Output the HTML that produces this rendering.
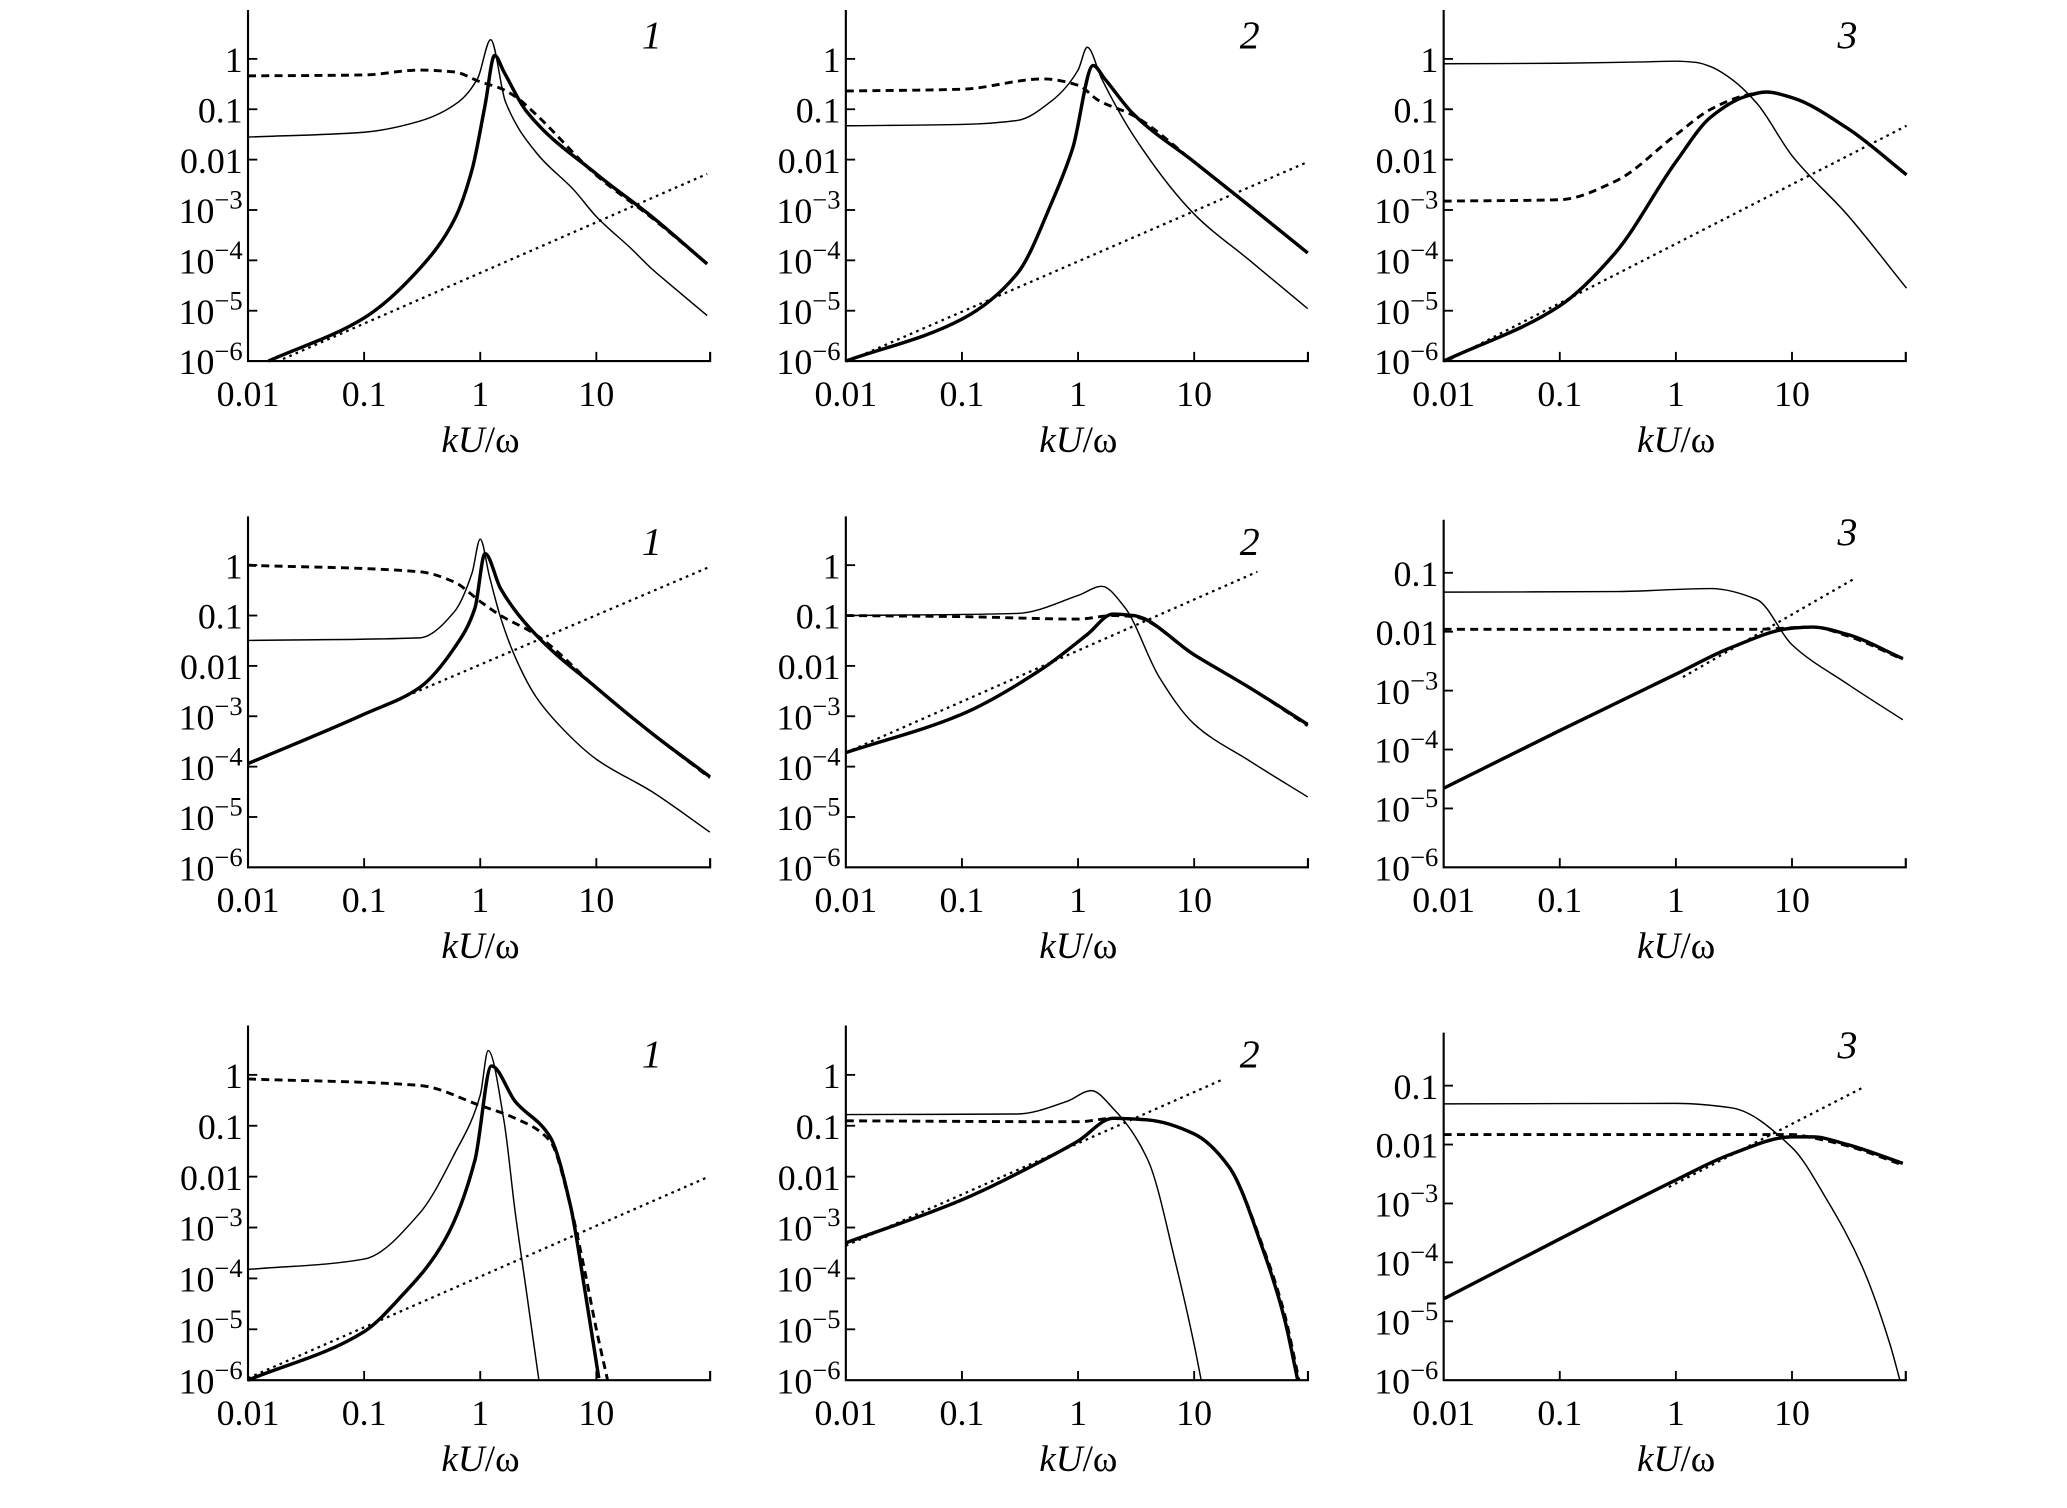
<!DOCTYPE html>
<html><head><meta charset="utf-8"><style>
html,body{margin:0;padding:0;background:#fff;}
svg{display:block;}
text{font-family:"Liberation Serif",serif;fill:#000;}
</style></head><body>
<svg id="fig" width="2067" height="1508" viewBox="0 0 2067 1508" xmlns="http://www.w3.org/2000/svg">
<g id="root" transform="translate(-4.4,3.4) scale(1.3285,1.315)"></g>
</svg>
<script>
// ---- data (kU/ω values and curve values) ----
const xTickVals = [0.01, 0.1, 1, 10];
const xTickLabels = ["0.01", "0.1", "1", "10"];
const panelLabels = ["1","2","3","1","2","3","1","2","3"];

// Panel 1
const p1ThinX = [0.01,0.1,0.3,0.65,0.95,1.23,1.65,3.1,6.4,10,20,30,44,90];
const p1ThinY = [0.028,0.035,0.058,0.14,0.41,2.4,0.14,0.013,0.0025,7.4e-4,1.7e-4,6.8e-5,3.2e-5,8e-6];
const p1ThickX = [0.015,0.1,0.3,0.6,0.85,1.1,1.33,1.6,2.5,10,30,90];
const p1ThickY = [1e-6,7.2e-6,6.8e-5,6.5e-4,6.3e-3,0.12,1.17,0.55,0.091,5.2e-3,7.4e-4,8.5e-5];
const p1DashX = [0.01,0.1,0.3,0.6,1.0,1.5,2,3,10,30,90];
const p1DashY = [0.46,0.48,0.6,0.55,0.35,0.26,0.18,0.08,4.9e-3,7e-4,8.5e-5];
const p1DotX = [0.02,90];
const p1DotY = [1.1e-6,5.2e-3];
// Panel 2
const p2ThinX = [0.01,0.1,0.3,0.6,1.0,1.2,1.6,3,10,30,95];
const p2ThinY = [0.047,0.05,0.06,0.15,0.6,1.7,0.4,0.03,8.3e-4,1e-4,1.1e-5];
const p2ThickX = [0.01,0.1,0.3,0.6,0.9,1.35,1.7,3,10,30,95];
const p2ThickY = [1e-6,6.8e-6,5.5e-5,1.5e-3,0.017,0.74,0.4,0.08,9e-3,1.2e-3,1.4e-4];
const p2DashX = [0.01,0.1,0.5,1.0,1.5,3,10,95];
const p2DashY = [0.23,0.25,0.4,0.3,0.15,0.075,9e-3,1.4e-4];
const p2DotX = [0.0115,95];
const p2DotY = [1.1e-6,9e-3];
// Panel 3
const p3ThinX = [0.01,0.1,0.5,1,1.5,2,3,5,10,30,97];
const p3ThinY = [0.8,0.82,0.87,0.9,0.85,0.7,0.4,0.13,0.012,8e-4,2.8e-5];
const p3ThickX = [0.01,0.1,0.3,1,2,4,6,10,30,97];
const p3ThickY = [1e-6,1.25e-5,1.4e-4,9e-3,0.07,0.18,0.22,0.17,0.042,5e-3];
const p3DashX = [0.01,0.1,0.3,1,2,4,6,10,30,97];
const p3DashY = [1.5e-3,1.6e-3,3.7e-3,0.031,0.1,0.19,0.22,0.17,0.042,5e-3];
const p3DotX = [0.0115,97];
const p3DotY = [1.1e-6,0.047];
// Panel 4
const p4ThinX = [0.01,0.3,0.6,0.85,1.0,1.2,1.5,2,3,5,10,30,95];
const p4ThinY = [0.032,0.036,0.12,0.7,3.3,0.6,0.09,0.015,2.5e-3,6e-4,1.4e-4,3.2e-5,5e-6];
const p4ThickX = [0.01,0.1,0.3,0.6,0.9,1.1,1.5,3,10,30,95];
const p4ThickY = [1.15e-4,1.1e-3,3.7e-3,0.023,0.14,1.7,0.34,0.042,3.7e-3,4.6e-4,6.3e-5];
const p4DashX = [0.01,0.3,0.6,1,1.5,3,10,30,95];
const p4DashY = [1.0,0.74,0.46,0.19,0.1,0.042,3.7e-3,4.6e-4,6e-5];
const p4DotX = [0.01,95];
const p4DotY = [1.15e-4,0.93];
// Panel 5
const p5ThinX = [0.01,0.3,1,1.6,2.5,5,10,30,95];
const p5ThinY = [0.1,0.11,0.25,0.38,0.15,6e-3,7e-4,1.3e-4,2.5e-5];
const p5ThickX = [0.01,0.1,0.5,1.2,2,3,10,30,95];
const p5ThickY = [1.9e-4,1.1e-3,9e-3,0.042,0.107,0.1,0.0166,3.7e-3,6.9e-4];
const p5DashX = [0.01,0.1,1,2,3,10,30,95];
const p5DashY = [0.1,0.095,0.085,0.1,0.095,0.0166,3.7e-3,6.5e-4];
const p5DotX = [0.01,35];
const p5DotY = [1.9e-4,0.74];
// Panel 6
const p6ThinX = [0.01,0.3,2,5,10,30,90];
const p6ThinY = [0.047,0.048,0.054,0.035,6e-3,1.3e-3,3.2e-4];
const p6ThickX = [0.01,0.1,1,3,10,15,30,90];
const p6ThickY = [2.2e-5,2.1e-4,1.9e-3,5.4e-3,0.0115,0.012,9e-3,3.5e-3];
const p6DashX = [0.01,5,15,30,90];
const p6DashY = [0.011,0.011,0.012,8.5e-3,3.4e-3];
const p6DotX = [1.15,35];
const p6DotY = [1.7e-3,0.081];
// Panel 7
const p7ThinX = [0.01,0.1,0.3,0.6,1,1.17,1.6,2,2.5,3.2];
const p7ThinY = [1.5e-4,2.4e-4,1.9e-3,0.028,0.4,3.0,0.126,2e-3,5.5e-5,1e-6];
const p7ThickX = [0.01,0.1,0.2,0.5,0.9,1.25,2,4,6,8,10.5];
const p7ThickY = [1e-6,9e-6,4e-5,5.9e-4,0.021,1.5,0.3,0.06,2.6e-3,5.5e-5,1.1e-6];
const p7DashX = [0.01,0.3,1,2,4,6,8,10,12.5];
const p7DashY = [0.83,0.62,0.25,0.14,0.05,2.6e-3,1.3e-4,1e-5,1e-6];
const p7DotX = [0.01,93];
const p7DotY = [1.1e-6,0.01];
// Panel 8
const p8ThinX = [0.01,0.3,0.8,1.3,2,4,7,10,11.5];
const p8ThinY = [0.166,0.17,0.3,0.49,0.22,0.021,1.8e-4,5e-6,1e-6];
const p8ThickX = [0.01,0.1,0.5,1,2,4,10,20,40,60,78];
const p8ThickY = [5e-4,3.5e-3,0.021,0.05,0.14,0.13,0.069,0.0155,3.2e-4,1.6e-5,1e-6];
const p8DashX = [0.01,1,2,4,10,20,40,60,80];
const p8DashY = [0.125,0.12,0.14,0.13,0.069,0.0155,3.6e-4,2e-5,1e-6];
const p8DotX = [0.01,18];
const p8DotY = [4.4e-4,0.83];
// Panel 9
const p9ThinX = [0.01,1,3,10,20,40,70,85];
const p9ThinY = [0.049,0.05,0.042,8.9e-3,1.15e-3,8.7e-5,4e-6,1e-6];
const p9ThickX = [0.01,0.1,1,3,10,15,30,90];
const p9ThickY = [2.4e-5,2.5e-4,2.5e-3,6.9e-3,0.0135,0.0135,0.01,4.8e-3];
const p9DashX = [0.01,10,15,30,90];
const p9DashY = [0.0148,0.0148,0.013,9.5e-3,4.5e-3];
const p9DotX = [0.87,40];
const p9DotY = [1.9e-3,0.091];

const panelSeries = [
 [[p1ThinX,p1ThinY],[p1ThickX,p1ThickY],[p1DashX,p1DashY],[p1DotX,p1DotY]],
 [[p2ThinX,p2ThinY],[p2ThickX,p2ThickY],[p2DashX,p2DashY],[p2DotX,p2DotY]],
 [[p3ThinX,p3ThinY],[p3ThickX,p3ThickY],[p3DashX,p3DashY],[p3DotX,p3DotY]],
 [[p4ThinX,p4ThinY],[p4ThickX,p4ThickY],[p4DashX,p4DashY],[p4DotX,p4DotY]],
 [[p5ThinX,p5ThinY],[p5ThickX,p5ThickY],[p5DashX,p5DashY],[p5DotX,p5DotY]],
 [[p6ThinX,p6ThinY],[p6ThickX,p6ThickY],[p6DashX,p6DashY],[p6DotX,p6DotY]],
 [[p7ThinX,p7ThinY],[p7ThickX,p7ThickY],[p7DashX,p7DashY],[p7DotX,p7DotY]],
 [[p8ThinX,p8ThinY],[p8ThickX,p8ThickY],[p8DashX,p8DashY],[p8DotX,p8DotY]],
 [[p9ThinX,p9ThinY],[p9ThickX,p9ThickY],[p9DashX,p9DashY],[p9DotX,p9DotY]]
];
const yTicksWide = [1,0.1,0.01,1e-3,1e-4,1e-5,1e-6];
const yTicksNarrow = [0.1,0.01,1e-3,1e-4,1e-5,1e-6];

// ---- layout (display coords, scaled by group transform) ----
const NS="http://www.w3.org/2000/svg";
const root=document.getElementById('root');
const colX=[190,640,1090], xDec=87.4;
const rowBottom=[272,657,1047];
const styles=[
 {w:1.1,dash:null,name:'thin-solid-curve'},
 {w:2.6,dash:null,name:'thick-solid-curve'},
 {w:2.2,dash:'6,4',name:'dashed-curve'},
 {w:1.7,dash:'2,3.2',name:'dotted-line'}
];
function mk(tag,attrs,parent){const e=document.createElementNS(NS,tag);for(const k in attrs)e.setAttribute(k,attrs[k]);parent.appendChild(e);return e;}
// monotone cubic (Fritsch-Carlson) in pixel space
function smoothPath(pts){
  const n=pts.length;
  if(n<3){return 'M'+pts.map(p=>p[0].toFixed(2)+','+p[1].toFixed(2)).join('L');}
  const dx=[],s=[];
  for(let i=0;i<n-1;i++){dx.push(pts[i+1][0]-pts[i][0]);s.push((pts[i+1][1]-pts[i][1])/dx[i]);}
  const m=[s[0]];
  for(let i=1;i<n-1;i++){
    if(s[i-1]*s[i]<=0)m.push(0);
    else{const w1=2*dx[i]+dx[i-1],w2=dx[i]+2*dx[i-1];m.push((w1+w2)/(w1/s[i-1]+w2/s[i]));}
  }
  m.push(s[n-2]);
  let d='M'+pts[0][0].toFixed(2)+','+pts[0][1].toFixed(2);
  for(let i=0;i<n-1;i++){
    const h=dx[i]/3;
    d+='C'+(pts[i][0]+h).toFixed(2)+','+(pts[i][1]+m[i]*h).toFixed(2)+' '+(pts[i+1][0]-h).toFixed(2)+','+(pts[i+1][1]-m[i+1]*h).toFixed(2)+' '+pts[i+1][0].toFixed(2)+','+pts[i+1][1].toFixed(2);
  }
  return d;
}
function expLabel(v,g,x,y){
  const e=Math.round(Math.log10(v));
  const t=mk('text',{x:x,y:y,'text-anchor':'end','font-size':27},g);
  if(e>=-2){t.textContent=(v>=1?'1':(e===-1?'0.1':'0.01'));}
  else{
    const a=document.createElementNS(NS,'tspan');a.textContent='10';t.appendChild(a);
    const b=document.createElementNS(NS,'tspan');b.setAttribute('dy','-11');b.setAttribute('font-size','20');b.textContent='\u2212'+(-e);t.appendChild(b);
  }
  
  
}
for(let p=0;p<9;p++){
  const r=Math.floor(p/3),c=p%3;
  const narrow=(r>0&&c===2);
  const x0=colX[c], yb=rowBottom[r];
  const yDec = narrow?44.8:(r===2?38.7:38.3);
  const axTop = narrow? yb-5.9*yDec : yb-6.97*yDec;
  const xEnd = x0+3.98*xDec;
  const X=v=>x0+(Math.log10(v)+2)*xDec;
  const Y=v=>yb-(Math.log10(v)+6)*yDec;
  const g=mk('g',{},root);
  
  
  const ax=mk('path',{d:`M${x0},${axTop}L${x0},${yb}L${xEnd},${yb}L${xEnd},${yb-7}`,fill:'none',stroke:'#000','stroke-width':1.6},g);
  
  
  xTickVals.forEach((v,i)=>{
    const tx=X(v);
    if(i>0)mk('line',{x1:tx,y1:yb,x2:tx,y2:yb-7,stroke:'#000','stroke-width':1.4},g);
    const t=mk('text',{x:tx,y:yb+34,'text-anchor':'middle','font-size':27},g);
    t.textContent=xTickLabels[i];
    
    
  });
  const yt=narrow?yTicksNarrow:yTicksWide;
  yt.forEach(v=>{
    const ty=Y(v);
    if(v!==1e-6)mk('line',{x1:x0,y1:ty,x2:x0+7,y2:ty,stroke:'#000','stroke-width':1.4},g);
    expLabel(v,g,x0-4,ty+10);
  });
  const xl=mk('text',{x:x0+175,y:yb+69,'text-anchor':'middle','font-size':28},g);
  xl.innerHTML='<tspan font-style="italic">kU</tspan>/\u03c9';
  
  
  const pl=mk('text',{x:x0+304,y:yb-238+(narrow?-7:0),'text-anchor':'middle','font-size':30,'font-style':'italic'},g);
  pl.textContent=panelLabels[p];
  
  
  panelSeries[p].forEach((s,k)=>{
    const pts=s[0].map((xv,i)=>[X(xv),Y(s[1][i])]);
    const st=styles[k];
    const a={d:k===3?'M'+pts.map(q=>q[0]+','+q[1]).join('L'):smoothPath(pts),fill:'none',stroke:'#000','stroke-width':st.w,'stroke-linejoin':'round'};
    if(st.dash)a['stroke-dasharray']=st.dash;
    const path=mk('path',a,g);
    
    
  });
}
</script>
</body></html>
